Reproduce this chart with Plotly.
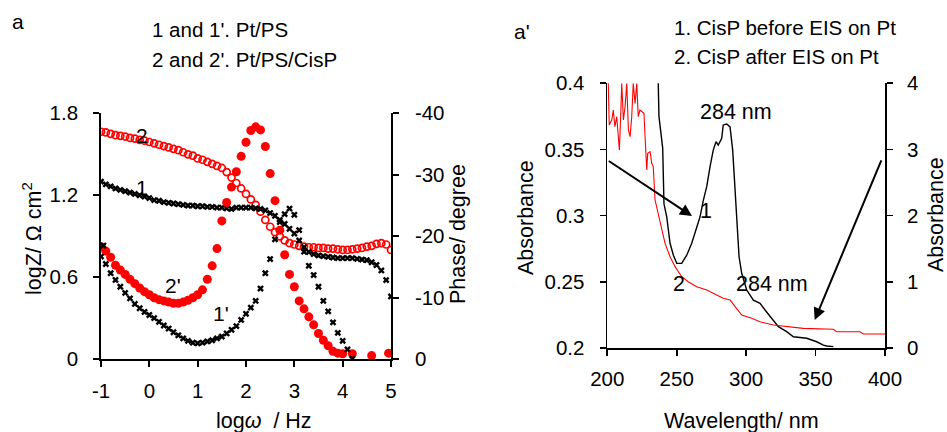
import plotly.graph_objects as go

# ---------------- Panel a : Bode data ----------------
logw = [-1.0, -0.9, -0.8, -0.7, -0.6, -0.5, -0.4, -0.3, -0.2, -0.1,
        0.0, 0.1, 0.2, 0.3, 0.4, 0.5, 0.6, 0.7, 0.8, 0.9,
        1.0, 1.1, 1.2, 1.3, 1.4, 1.5, 1.6, 1.7, 1.8, 1.9,
        2.0, 2.1, 2.2, 2.3, 2.4, 2.5, 2.6, 2.7, 2.8, 2.9,
        3.0, 3.1, 3.2, 3.3, 3.4, 3.5, 3.6, 3.7, 3.8, 3.9,
        4.0, 4.1, 4.2, 4.3, 4.4, 4.5, 4.6, 4.7, 4.8, 4.9, 5.0]

logZ_2 = [1.665, 1.66, 1.65, 1.64, 1.635, 1.63, 1.62, 1.615, 1.605, 1.60,
          1.59, 1.58, 1.57, 1.56, 1.55, 1.54, 1.53, 1.515, 1.50, 1.49,
          1.47, 1.46, 1.445, 1.43, 1.415, 1.40, 1.37, 1.33, 1.29, 1.25,
          1.21, 1.17, 1.13, 1.08, 1.02, 0.97, 0.93, 0.90, 0.87, 0.85,
          0.84, 0.83, 0.825, 0.82, 0.82, 0.815, 0.815, 0.81, 0.81, 0.805,
          0.80, 0.80, 0.805, 0.81, 0.815, 0.825, 0.83, 0.845, 0.85, 0.84, 0.80]

logZ_1 = [1.30, 1.28, 1.265, 1.25, 1.24, 1.23, 1.22, 1.21, 1.20, 1.19,
          1.18, 1.165, 1.16, 1.15, 1.145, 1.14, 1.135, 1.13, 1.125, 1.125,
          1.12, 1.12, 1.115, 1.115, 1.11, 1.11, 1.105, 1.10, 1.11, 1.11,
          1.11, 1.11, 1.105, 1.10, 1.09, 1.07, 1.05, 1.02, 0.99, 0.955,
          0.92, 0.87, 0.82, 0.785, 0.77, 0.76, 0.755, 0.75, 0.745, 0.74,
          0.74, 0.74, 0.74, 0.735, 0.73, 0.725, 0.71, 0.69, 0.65, 0.58, 0.46]

logw_p2 = [-1.0, -0.9, -0.8, -0.7, -0.6, -0.5, -0.4, -0.3, -0.2, -0.1,
           0.0, 0.1, 0.2, 0.3, 0.4, 0.5, 0.6, 0.7, 0.8, 0.9,
           1.0, 1.1, 1.2, 1.3, 1.4, 1.5, 1.6, 1.7, 1.8, 1.9,
           2.0, 2.1, 2.2, 2.3, 2.4, 2.5, 2.6, 2.7, 2.8, 2.9,
           3.0, 3.1, 3.2, 3.3, 3.4, 3.5, 3.6, 3.7, 3.8, 3.9,
           4.0, 4.2, 4.6, 4.95]
phase_2 = [-18.3, -17.6, -16.6, -15.3, -14.5, -13.8, -13.0, -12.3, -11.6, -11.0,
           -10.5, -10.0, -9.7, -9.5, -9.3, -9.1, -9.1, -9.3, -9.6, -10.0,
           -10.5, -11.3, -13.0, -15.2, -18.0, -22.5, -25.5, -28.0, -30.5, -33.0,
           -35.3, -37.2, -37.8, -37.3, -34.6, -30.2, -25.8, -21.0, -17.0, -13.8,
           -11.8, -9.5, -8.2, -6.9, -5.6, -4.2, -3.1, -2.2, -1.3, -1.0,
           -0.9, -0.9, -0.6, -1.0]

logw_p1 = [-1.0, -0.95, -0.9, -0.8, -0.7, -0.6, -0.5, -0.4, -0.3, -0.2, -0.1,
           0.0, 0.1, 0.2, 0.3, 0.4, 0.5, 0.6, 0.7, 0.8, 0.9,
           1.0, 1.1, 1.2, 1.3, 1.4, 1.5, 1.6, 1.7, 1.8, 1.9,
           2.0, 2.1, 2.2, 2.3, 2.4, 2.5, 2.6, 2.7, 2.8, 2.9,
           3.0, 3.1, 3.2, 3.3, 3.4, 3.5, 3.6, 3.7, 3.8, 3.9,
           4.0, 4.1, 4.2]
phase_1 = [-16.7, -18.5, -15.5, -14.0, -12.9, -11.8, -10.8, -9.9, -9.0, -8.3, -7.7,
           -7.2, -6.7, -6.1, -5.5, -5.0, -4.4, -3.9, -3.4, -3.0, -2.7,
           -2.6, -2.7, -2.9, -3.1, -3.4, -3.7, -4.2, -4.8, -5.4, -6.4,
           -7.4, -8.4, -9.5, -11.5, -14.0, -16.3, -19.5, -22.3, -23.6, -24.5,
           -23.5, -21.0, -17.5, -15.2, -13.7, -11.8, -9.5, -7.8, -6.0, -4.3,
           -3.0, -1.6, -0.1]

x_ticks_a = [-1, 0, 1, 2, 3, 4, 5]
x_ticktext_a = ["-1", "0", "1", "2", "3", "4", "5"]
y_ticks_a = [0, 0.6, 1.2, 1.8]
y_ticktext_a = ["0", "0.6", "1.2", "1.8"]
y2_ticks_a = [0, -10, -20, -30, -40]
y2_ticktext_a = ["0", "-10", "-20", "-30", "-40"]

# ---------------- Panel a' : UV-vis data ----------------
wl_1 = [236.6, 237.2, 239.9, 240.8, 242.8, 243.9, 245.2, 247.6, 250.0, 253.6,
        257.2, 260.8, 263.2, 266.8, 269.2, 271.6, 274.0, 276.3, 278.3, 279.9,
        282.4, 283.5, 286.0, 288.4, 290.3, 292.0, 293.6, 294.9, 296.8, 300.4,
        305.2, 310.0, 313.6, 318.4, 323.2, 329.2, 334.0, 343.6, 350.8, 355.6,
        358.0, 362.8]
abs_1 = [0.405, 0.375, 0.351, 0.309, 0.299, 0.2915, 0.279, 0.270, 0.2638, 0.2638,
         0.270, 0.279, 0.2865, 0.299, 0.3117, 0.3218, 0.337, 0.3495, 0.3558, 0.3533,
         0.3584, 0.3685, 0.3692, 0.367, 0.3495, 0.3218, 0.2915, 0.2688, 0.2563, 0.2436,
         0.236, 0.2336, 0.2285, 0.2222, 0.2159, 0.2121, 0.2083, 0.2071, 0.2045, 0.202,
         0.2013, 0.2008]

wl_2 = [200.0, 200.7, 201.4, 203.2, 204.3, 205.5, 206.8, 208.0, 208.7, 209.7,
        210.4, 211.6, 212.8, 214.0, 215.2, 216.4, 217.6, 218.7, 220.0, 221.2,
        222.3, 223.5, 224.8, 226.4, 227.2, 228.4, 229.1, 230.8, 232.0, 233.1,
        234.4, 236.7, 239.2, 241.6, 245.2, 248.8, 253.6, 258.3, 264.4, 271.6,
        278.8, 283.5, 288.4, 292.0, 296.8, 304.0, 310.0, 319.6, 329.2, 341.2,
        362.8, 365.2, 382.0, 384.4, 400.0]
abs_2 = [4.0, 4.0, 3.37, 3.445, 3.596, 3.344, 3.495, 3.193, 2.99, 3.546,
         4.0, 3.445, 3.646, 4.0, 3.294, 3.193, 3.495, 4.0, 3.697, 4.0,
         3.495, 3.596, 3.57, 3.546, 3.193, 2.688, 2.94, 2.966, 2.79, 2.74,
         2.234, 2.03, 1.78, 1.579, 1.377, 1.226, 1.074, 0.998, 0.923, 0.873,
         0.797, 0.747, 0.721, 0.62, 0.494, 0.444, 0.393, 0.343, 0.318, 0.293,
         0.278, 0.242, 0.242, 0.207, 0.207]

x_ticks_b = [200, 250, 300, 350, 400]
y_ticks_b = [0.2, 0.25, 0.3, 0.35, 0.4]
y_ticktext_b = ["0.2", "0.25", "0.3", "0.35", "0.4"]
y2_ticks_b = [0, 1, 2, 3, 4]

# ---------------- Figure ----------------
W, H = 947, 432
FONT = "Liberation Sans, Arial, sans-serif"
RED = "#ff0000"

def px(x):
    return x / W

def py(y):
    return 1 - y / H

fig = go.Figure()

fig.add_trace(go.Scatter(x=logw, y=logZ_2, mode="markers", xaxis="x", yaxis="y",
                         marker=dict(symbol="circle-open", size=7, color=RED, line=dict(width=1.7, color=RED)),
                         showlegend=False))
fig.add_trace(go.Scatter(x=logw, y=logZ_1, mode="markers", xaxis="x", yaxis="y",
                         marker=dict(symbol="x", size=6, color="black"), showlegend=False))
fig.add_trace(go.Scatter(x=logw_p2, y=phase_2, mode="markers", xaxis="x", yaxis="y2",
                         marker=dict(symbol="circle", size=9, color=RED), showlegend=False))
fig.add_trace(go.Scatter(x=logw_p1, y=phase_1, mode="markers", xaxis="x", yaxis="y2",
                         marker=dict(symbol="x", size=6, color="black"), showlegend=False))

fig.add_trace(go.Scatter(x=wl_1, y=abs_1, mode="lines", xaxis="x2", yaxis="y3",
                         line=dict(color="black", width=1.4), showlegend=False))
fig.add_trace(go.Scatter(x=wl_2, y=abs_2, mode="lines", xaxis="x2", yaxis="y4",
                         line=dict(color=RED, width=1.1), showlegend=False))

axis_common = dict(showgrid=False, zeroline=False, showline=True, linecolor="black",
                   linewidth=1.8, ticks="outside", ticklen=6, tickwidth=1.8, tickcolor="black",
                   automargin=False,
                   tickfont=dict(family=FONT, size=20.5, color="black"))

dom_ax = [px(101), px(391)]
dom_ay = [py(359.3), py(113.3)]
dom_bx = [px(607.3), px(885)]
dom_by = [py(347.7), py(83.3)]

fig.update_layout(
    template="none",
    width=W, height=H,
    margin=dict(l=0, r=0, t=0, b=0, pad=0),
    paper_bgcolor="white", plot_bgcolor="white",
    font=dict(family=FONT, size=20, color="black"),
    hovermode=False,
    xaxis=dict(axis_common, domain=dom_ax, range=[-1, 5], anchor="y",
               tickvals=x_ticks_a, ticktext=x_ticktext_a, ticklabelstandoff=6),
    yaxis=dict(axis_common, domain=dom_ay, range=[0, 1.8], anchor="x",
               tickvals=y_ticks_a, ticktext=y_ticktext_a, ticklabelstandoff=11),
    yaxis2=dict(axis_common, overlaying="y", side="right", range=[0, -40], anchor="x",
                tickvals=y2_ticks_a, ticktext=y2_ticktext_a, ticklabelstandoff=12),
    xaxis2=dict(axis_common, domain=dom_bx, range=[200, 400], anchor="y3",
                tickvals=x_ticks_b, ticklabelstandoff=6),
    yaxis3=dict(axis_common, domain=dom_by, range=[0.2, 0.4], anchor="x2",
                tickvals=y_ticks_b, ticktext=y_ticktext_b, ticklabelstandoff=11),
    yaxis4=dict(axis_common, overlaying="y3", side="right", range=[0, 4], anchor="x2",
                tickvals=y2_ticks_b, ticklabelstandoff=10),
)

def txt(text, x, y, size=20.5, angle=0, xanchor="center", yanchor="middle"):
    fig.add_annotation(text=text, x=px(x), y=py(y), xref="paper", yref="paper",
                       showarrow=False, textangle=angle, xanchor=xanchor, yanchor=yanchor,
                       font=dict(family=FONT, size=size, color="black"))

# panel labels and titles
txt("a", 17.5, 21, size=21)
txt("1 and 1'. Pt/PS", 150, 29, xanchor="left")
txt("2 and 2'. Pt/PS/CisP", 150, 59, xanchor="left")
txt("a'", 522, 31, size=21)
txt("1. CisP before EIS on Pt", 672, 28, xanchor="left")
txt("2. CisP after EIS on Pt", 672, 57, xanchor="left")

# axis titles
txt("logZ/ Ω cm<sup>2</sup>", 32, 238, size=21.5, angle=-90)
txt("Phase/ degree", 458, 234, size=21.5, angle=-90)
txt("log<i>ω</i> &nbsp;/ Hz", 264, 421, size=21.5)
txt("Wavelength/ nm", 741, 421, size=21.5)
txt("Absorbance", 526, 218, size=21.5, angle=-90)
txt("Absorbance", 936, 215, size=21.5, angle=-90)

# curve labels
txt("2", 142, 135, size=21)
txt("1", 142, 187, size=21)
txt("2'", 173, 285, size=21)
txt("1'", 221, 313, size=21)
txt("284 nm", 736, 112, size=21.5)
txt("1", 706, 211, size=21.5)
txt("2", 679, 284, size=21.5)
txt("284 nm", 772, 284, size=21.5)

# arrows
fig.add_annotation(x=261, y=0.2996, xref="x2", yref="y3", ax=200, ay=0.342,
                   axref="x2", ayref="y3", text="", showarrow=True,
                   arrowhead=2, arrowsize=1.2, arrowwidth=2, arrowcolor="black")
fig.add_annotation(x=349.4, y=0.419, xref="x2", yref="y4", ax=397.8, ay=2.855,
                   axref="x2", ayref="y4", text="", showarrow=True,
                   arrowhead=2, arrowsize=1.2, arrowwidth=2, arrowcolor="black")

# remove the default page margin so the figure fills the window exactly
fig.write_html("out.html",
               config={"displayModeBar": False, "staticPlot": True},
               post_script="document.body.style.margin='0';document.body.style.overflow='hidden';")
